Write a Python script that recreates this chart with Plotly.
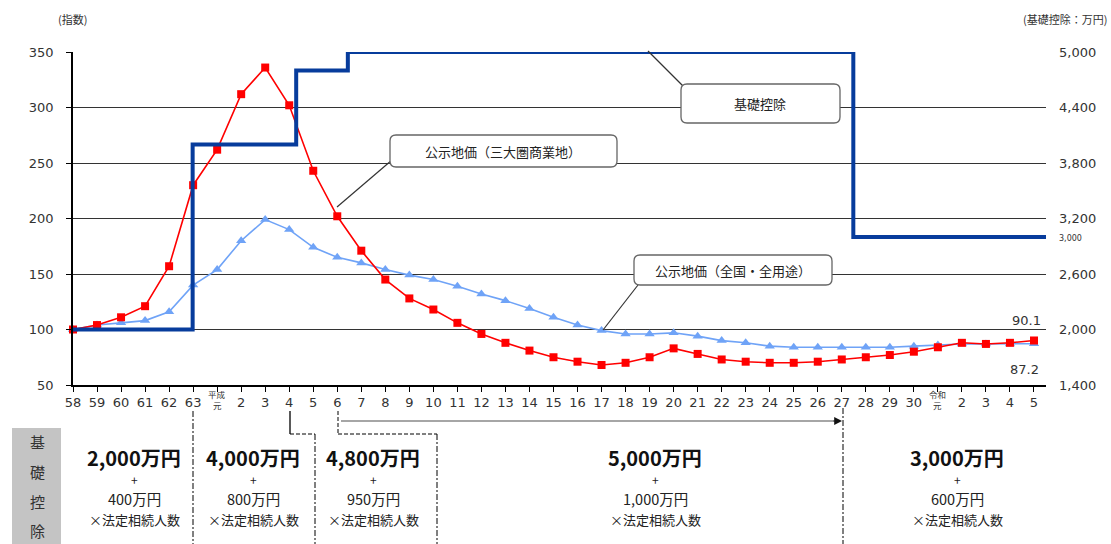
import plotly.graph_objects as go

# ---------------- data ----------------
year_labels = ["58", "59", "60", "61", "62", "63", "平成元",
               "2", "3", "4", "5", "6", "7", "8", "9", "10",
               "11", "12", "13", "14", "15", "16", "17", "18", "19", "20",
               "21", "22", "23", "24", "25", "26", "27", "28", "29", "30",
               "令和元", "2", "3", "4", "5"]

commercial_3metro = [100, 104, 111, 121, 157, 230,
                     262, 312, 336, 302, 243, 202, 171, 145, 128, 118,
                     106, 96, 88, 81, 75, 71, 68, 70, 75, 83,
                     78, 73, 71, 70, 70, 71, 73, 75, 77, 80,
                     84, 88, 87, 88, 90.1]

national_all = [100, 104, 106, 108, 116, 140,
                154, 180, 199, 190, 174, 165, 160, 154, 149, 145,
                139, 132, 126, 119, 111, 104, 99, 96, 96, 97,
                94, 90, 88, 85, 84, 84, 84, 84, 84, 85,
                86, 87, 87, 87, 87.2]

# basic deduction (万円), step positions on the year axis
deduction_pos = [0, 4.98, 9.29, 11.44, 32.48, 40.5]
deduction_val = [2000, 4000, 4800, 5000, 3000, 3000]

left_ticks = [50, 100, 150, 200, 250, 300, 350]
right_ticks = [1400, 2000, 2600, 3200, 3800, 4400, 5000]

# ---------------- layout helpers (pixel -> paper) ----------------
W, H = 1111, 544
L, R, T, B = 73, 1046, 52, 385


def px(p):
    return (p - L) / (R - L)


def py(p):
    return (B - p) / (B - T)


FONT = "DejaVu Sans, Noto Sans CJK JP, sans-serif"
JFONT = "Noto Sans CJK JP, sans-serif"
TXT = "#333333"

x_idx = list(range(len(year_labels)))
# era-start labels are drawn as two small lines separately
tick_text = ["" if ("元" in s) else s for s in year_labels]

fig = go.Figure()
fig.add_trace(go.Scatter(
    x=deduction_pos, y=deduction_val, yaxis="y2", mode="lines",
    line=dict(color="#073C9C", width=4, shape="hv"), cliponaxis=False,
    showlegend=False, hoverinfo="skip"))
fig.add_trace(go.Scatter(
    x=x_idx, y=national_all, mode="lines+markers",
    line=dict(color="#6FA3F7", width=1.6),
    marker=dict(symbol="triangle-up", size=9, color="#6FA3F7"),
    cliponaxis=False, showlegend=False))
fig.add_trace(go.Scatter(
    x=x_idx, y=commercial_3metro, mode="lines+markers",
    line=dict(color="#FF0000", width=1.6),
    marker=dict(symbol="square", size=8, color="#FF0000"),
    cliponaxis=False, showlegend=False))

shapes = []
annotations = []


def line(x0, y0, x1, y1, color="#000", width=1, dash="solid"):
    shapes.append(dict(type="line", xref="paper", yref="paper",
                       x0=px(x0), y0=py(y0), x1=px(x1), y1=py(y1),
                       line=dict(color=color, width=width, dash=dash), layer="above"))


def rbox(x0, y0, x1, y1, r=6):
    rx, ry = r / (R - L), r / (B - T)
    X0, X1, Y0, Y1 = px(x0), px(x1), py(y0), py(y1)  # Y0 top (bigger)
    path = (f"M {X0+rx},{Y0} L {X1-rx},{Y0} Q {X1},{Y0} {X1},{Y0-ry} "
            f"L {X1},{Y1+ry} Q {X1},{Y1} {X1-rx},{Y1} "
            f"L {X0+rx},{Y1} Q {X0},{Y1} {X0},{Y1+ry} "
            f"L {X0},{Y0-ry} Q {X0},{Y0} {X0+rx},{Y0} Z")
    shapes.append(dict(type="path", xref="paper", yref="paper", path=path,
                       fillcolor="white", line=dict(color="#666666", width=1.3),
                       layer="above"))


def text(x, y, s, size=13, color=TXT, bold=False, xanchor="center", family=JFONT,
         xref="paper"):
    if bold:
        s = f"<b>{s}</b>"
    annotations.append(dict(xref=xref, yref="paper",
                            x=(x if xref == "x" else px(x)), y=py(y), text=s,
                            showarrow=False, xanchor=xanchor, yanchor="middle",
                            borderpad=0,
                            font=dict(size=size, color=color, family=family)))


# era-start tick labels (two small lines)
for i, s in enumerate(year_labels):
    if "元" in s:
        text(i, 394, s[:2], size=8.5, color=TXT, xref="x")
        text(i, 405, s[2:], size=8.5, color=TXT, xref="x")

# callouts
line(648, 51, 683, 86, color="#333", width=1.2)
rbox(681, 84, 840, 123)
text(760, 103, "基礎控除", size=13, color="#222")

line(337, 207, 392, 160, color="#333", width=1.2)
rbox(390, 135, 617, 167)
text(503, 151, "公示地価（三大圏商業地）", size=13, color="#222")

line(603, 330, 638, 285, color="#333", width=1.2)
rbox(634, 255, 832, 285)
text(733, 270, "公示地価（全国・全用途）", size=13, color="#222")

# end labels
text(1042, 320, "90.1", size=13, color="#333", xanchor="right", family=FONT)
text(1040, 369, "87.2", size=13, color="#333", xanchor="right", family=FONT)
text(1058, 238, "3,000", size=8, color="#333", xanchor="left", family=FONT)

# axis titles
text(72, 19, "(指数)", size=11, color="#333")
text(1108, 19, "(基礎控除：万円)", size=11, color="#333", xanchor="right")

# bottom table
shapes.append(dict(type="rect", xref="paper", yref="paper",
                   x0=px(12), x1=px(61), y0=py(428), y1=py(546),
                   fillcolor="#C4C4C4", line=dict(width=0), layer="above"))
for ch, yy in zip(["基", "礎", "控", "除"], [441, 471, 501, 530]):
    text(37, yy, ch, size=15, color="#333")

DD = "6px,2px,2px,2px"
line(193, 411, 193, 546, dash=DD)
line(290, 411, 290, 434, width=1.3)
line(290, 434, 315, 434, dash="4px,2px")
line(315, 434, 315, 546, dash=DD)
line(338, 411, 338, 434, dash="4px,2px")
line(338, 434, 437, 434, dash="4px,2px")
line(437, 434, 437, 546, dash=DD)
line(843, 408, 843, 546, dash=DD)
line(341, 421, 834, 421, color="#888888", width=1.3)
annotations.append(dict(xref="paper", yref="paper", x=px(842), y=py(421),
                        ax=-10, ay=0, showarrow=True, arrowhead=2, arrowsize=1.3,
                        arrowwidth=1.2, arrowcolor="#111", text=""))

blocks = [(134, "2,000万円", "400万円"),
          (253, "4,000万円", "800万円"),
          (373, "4,800万円", "950万円"),
          (655, "5,000万円", "1,000万円"),
          (957, "3,000万円", "600万円")]
for cx, main, sub in blocks:
    text(cx, 457, main, size=20, color="#111", bold=True)
    text(cx, 480, "+", size=12, color="#222")
    text(cx, 498, sub, size=14.5, color="#222")
    text(cx, 519, "×法定相続人数", size=13, color="#222")

fig.update_layout(
    width=W, height=H,
    margin=dict(l=L, r=W - R, t=T, b=H - B, pad=0),
    paper_bgcolor="white", plot_bgcolor="white",
    font=dict(family=FONT, size=13, color=TXT),
    showlegend=False,
    xaxis=dict(range=[0, 40.5], tickmode="array", tickvals=x_idx, ticktext=tick_text,
               showgrid=False, zeroline=False, showline=True, linecolor="#000", linewidth=1.5,
               ticks="outside", ticklen=5, tickcolor="#000", tickwidth=1.2,
               tickfont=dict(size=13, color=TXT), fixedrange=True),
    yaxis=dict(range=[50, 350], tickmode="array", tickvals=left_ticks,
               showgrid=True, gridcolor="#333", gridwidth=1, zeroline=False,
               showline=True, linecolor="#000", linewidth=1.5,
               ticks="outside", ticklen=5, tickcolor="#000",
               ticklabelstandoff=10, tickfont=dict(size=13, color=TXT)),
    yaxis2=dict(range=[1400, 5000], overlaying="y", side="right", tickmode="array",
                tickvals=right_ticks, ticktext=[f"{v:,}" for v in right_ticks],
                showgrid=False, zeroline=False, showline=False, ticks="",
                ticklabelstandoff=12, tickfont=dict(size=13, color=TXT)),
    shapes=shapes, annotations=annotations,
)

fig.write_html("out.html")
